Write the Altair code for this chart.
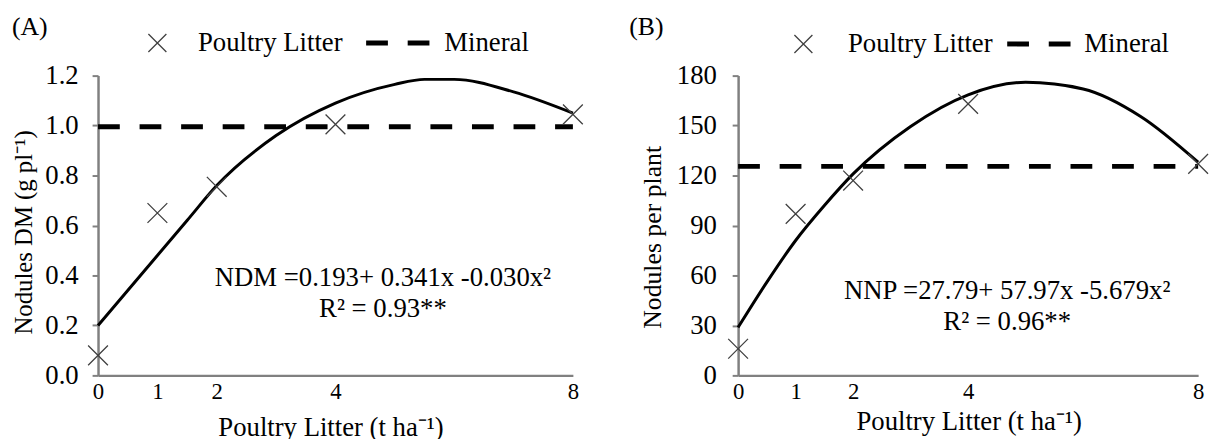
import altair as alt
import pandas as pd

# ---------------- data ----------------
x_levels = [0, 1, 2, 4, 8]

ndm_obs = [0.08, 0.65, 0.755, 1.005, 1.045]
nnp_obs = [16, 97, 117, 163, 127]

fit_x_a = [0, 0.5, 1, 1.5, 2, 3, 4, 5, 5.5, 6, 7, 8]
ndm_fit = [0.20, 0.34, 0.48, 0.62, 0.76, 0.96, 1.09, 1.165, 1.185, 1.185, 1.135, 1.05]

fit_x_b = [0, 0.5, 1, 1.5, 2, 3, 4, 5, 6, 7, 8]
nnp_fit = [28.8, 56, 81, 102, 121, 149.5, 168.5, 176, 172, 155.5, 128]

mineral_ndm = 0.995
mineral_nnp = 125.5

ticks_a = [0.0, 0.2, 0.4, 0.6, 0.8, 1.0, 1.2]
ticks_b = [0, 30, 60, 90, 120, 150, 180]

legend_labels = ["Poultry Litter", "Mineral"]
x_title = "Poultry Litter (t ha⁻¹)"
y_title_a = "Nodules DM (g pl⁻¹)"
y_title_b = "Nodules per plant"
eq_a = ["NDM =0.193+ 0.341x -0.030x²", "R² = 0.93**"]
eq_b = ["NNP =27.79+ 57.97x -5.679x²", "R² = 0.96**"]

FONT = "Liberation Serif"
XPATH = "M-1,-1L1,1M-1,1L1,-1"
AXIS_GRAY = "#808080"


def text_layer(txt, x, y, size=27, align="center", baseline="alphabetic"):
    return alt.Chart(pd.DataFrame({"t": [txt]})).mark_text(
        font=FONT, fontSize=size, align=align, baseline=baseline, color="black"
    ).encode(text="t:N", x=alt.value(x), y=alt.value(y))


def panel(obs, fx, fy, mineral, ydom, yticks, yfmt, ytitle, ytitle_size, letter, eqs, w, h,
          ytitle_x, ytitle_y, xtitle_x, xtitle_y, ylabpad, lay):
    df_obs = pd.DataFrame({"x": x_levels, "y": obs})
    df_fit = pd.DataFrame({"x": fx, "y": fy})
    df_min = pd.DataFrame({"x": [0, 8], "y": [mineral, mineral]})

    xs = alt.Scale(domain=[0, 8], nice=False, zero=False)
    ys = alt.Scale(domain=ydom, nice=False)
    xaxis = alt.Axis(values=x_levels, title=x_title, ticks=False, grid=False,
                     domainColor=AXIS_GRAY, domainWidth=2.5,
                     labelFont=FONT, labelFontSize=23, labelColor="black",
                     labelBaseline="alphabetic", labelPadding=23, labelFlush=False,
                     labelOverlap=False,
                     titleFont=FONT, titleFontSize=27, titleFontWeight="normal",
                     titleColor="black", titleX=xtitle_x, titleY=xtitle_y,
                     titleBaseline="alphabetic", titleAlign="center")
    yaxis = alt.Axis(values=yticks, format=yfmt, title=ytitle, grid=False,
                     domainColor=AXIS_GRAY, domainWidth=2.5,
                     tickColor=AXIS_GRAY, tickWidth=2, tickSize=6,
                     labelFont=FONT, labelFontSize=27, labelColor="black",
                     labelPadding=ylabpad, labelFlush=False, labelOverlap=False,
                     titleFont=FONT, titleFontSize=ytitle_size, titleFontWeight="normal",
                     titleColor="black", titleAngle=-90, titleX=ytitle_x,
                     titleY=ytitle_y, titleBaseline="middle", titleAlign="center")

    X = alt.X("x:Q", scale=xs, axis=xaxis)
    Y = alt.Y("y:Q", scale=ys, axis=yaxis)

    mineral_line = alt.Chart(df_min).mark_line(
        stroke="black", strokeWidth=5, strokeDash=[22, 20], strokeCap="butt"
    ).encode(x=X, y=Y)
    fit_line = alt.Chart(df_fit).mark_line(
        interpolate="monotone", stroke="black", strokeWidth=3
    ).encode(x=X, y=Y)
    pts = alt.Chart(df_obs).mark_point(
        shape=XPATH, size=400, filled=False, stroke="#404040", strokeWidth=1.3, opacity=1
    ).encode(x=X, y=Y)

    leg_sym = alt.Chart(pd.DataFrame({"k": [legend_labels[0]]})).mark_point(
        shape=XPATH, size=330, filled=False, stroke="#404040", strokeWidth=1.3, opacity=1
    ).encode(x=alt.value(lay["sym"]), y=alt.value(lay["ly"]))
    leg_dash = alt.Chart(pd.DataFrame({"k": [legend_labels[1]]})).mark_rule(
        stroke="black", strokeWidth=5, strokeDash=[22, 20], strokeCap="butt"
    ).encode(x=alt.value(lay["d1"]), x2=alt.value(lay["d2"]), y=alt.value(lay["ly"]))

    layers = [
        mineral_line, fit_line, pts, leg_sym, leg_dash,
        text_layer(legend_labels[0], lay["t1"], lay["ly"], align="left", baseline="middle"),
        text_layer(legend_labels[1], lay["t2"], lay["ly"], align="left", baseline="middle"),
        text_layer(letter, lay["lx"], -49, size=26, align="left", baseline="middle"),
        text_layer(eqs[0], lay["ex"], lay["ey"]),
        text_layer(eqs[1], lay["ex"], lay["ey"] + 31),
    ]
    return alt.layer(*layers).properties(width=w, height=h)


pa = panel(ndm_obs, fit_x_a, ndm_fit, mineral_ndm, [0, 1.2], ticks_a, ".1f",
           y_title_a, 25, "(A)", eq_a, 480, 303,
           ytitle_x=-75, ytitle_y=158, xtitle_x=235, xtitle_y=61, ylabpad=14,
           lay=dict(sym=60, ly=-33, t1=101, d1=271, d2=336, t2=350, lx=-87,
                    ex=288, ey=213))
pb = panel(nnp_obs, fit_x_b, nnp_fit, mineral_nnp, [0, 180], ticks_b, "d",
           y_title_b, 26, "(B)", eq_b, 465, 303,
           ytitle_x=-86, ytitle_y=163, xtitle_x=233, xtitle_y=55, ylabpad=16,
           lay=dict(sym=66, ly=-32, t1=111, d1=272, d2=336, t2=350, lx=-110,
                    ex=272, ey=226))

chart = alt.hconcat(pa, pb, spacing=167, bounds="flush").configure_view(
    stroke=None
).properties(
    padding={"left": 4, "top": 4, "right": 0, "bottom": 0},
    background="white",
)

chart.save("out.html", embed_options={"renderer": "svg", "actions": False})
